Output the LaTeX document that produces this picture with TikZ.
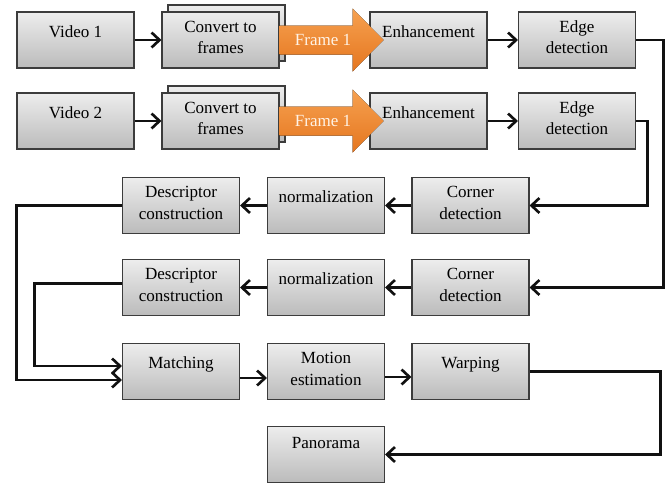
\documentclass[tikz,border=0pt]{standalone}
\usepackage{fontspec}
\setmainfont{Liberation Serif}
\usetikzlibrary{arrows.meta,calc}

\begin{document}
\begin{tikzpicture}[line join=miter]
  \definecolor{boxtop}{HTML}{EDEDED}
  \definecolor{boxbot}{HTML}{BBBBBB}
  \definecolor{rim}{HTML}{3C3C3C}
  \definecolor{wire}{HTML}{111111}
  \definecolor{flametop}{HTML}{F6A150}
  \definecolor{flamebot}{HTML}{E5761F}
  \definecolor{flametext}{HTML}{FFF3E6}
  \path[use as bounding box] (0,0) rectangle (13.3,-9.66);
  \fill[white] (0,0) rectangle (13.3,-9.66);
  \tikzset{
    stage/.style={draw=rim, line width=0.6pt, top color=boxtop, bottom color=boxbot,
      minimum width=2.34cm, minimum height=1.12cm, inner xsep=2pt, inner ysep=0pt,
      align=center, text height=0.83cm, text depth=0.29cm,
      font=\fontsize{9.7}{12}\selectfont},
    oneline/.style={text height=0.50cm, text depth=0.62cm},
    flow/.style={draw=wire, line width=1.5pt, -{Straight Barb[length=0.16cm,width=0.3cm]}},
    frame/.style={top color=flametop, bottom color=flamebot},
    framelabel/.style={text=flametext, font=\fontsize{9.7}{12}\selectfont, inner sep=0pt}
  }
  % Two input streams, each split into frames and filtered.
  \node[stage,oneline] (vid1) at (1.51,-0.80) {Video 1};
  \node[stage] (conv1b) at (4.53,-0.66) {};
  \node[stage] (conv1) at (4.41,-0.80) {Convert to\\frames};
  \node[stage,oneline] (enh1) at (8.57,-0.80) {Enhancement};
  \node[stage] (edge1) at (11.54,-0.80) {Edge\\detection};
  \node[stage,oneline] (vid2) at (1.51,-2.42) {Video 2};
  \node[stage] (conv2b) at (4.53,-2.28) {};
  \node[stage] (conv2) at (4.41,-2.42) {Convert to\\frames};
  \node[stage,oneline] (enh2) at (8.57,-2.42) {Enhancement};
  \node[stage] (edge2) at (11.54,-2.42) {Edge\\detection};
  % Features run back to the left.
  \node[stage] (desca) at (3.62,-4.11) {Descriptor\\construction};
  \node[stage,oneline] (norma) at (6.52,-4.11) {normalization};
  \node[stage] (corna) at (9.41,-4.11) {Corner\\detection};
  \node[stage] (descb) at (3.62,-5.75) {Descriptor\\construction};
  \node[stage,oneline] (normb) at (6.52,-5.75) {normalization};
  \node[stage] (cornb) at (9.41,-5.75) {Corner\\detection};
  % Registration and output.
  \node[stage,oneline] (match) at (3.62,-7.43) {Matching};
  \node[stage] (motion) at (6.52,-7.43) {Motion\\estimation};
  \node[stage,oneline] (warp) at (9.41,-7.43) {Warping};
  \node[stage,oneline,text height=0.44cm, text depth=0.68cm] (pano) at (6.52,-9.09) {Panorama};
  % Orange frame arrows lie over the enhancement boxes.
  \fill[frame] (conv1.east) ++(0,0.29) -- ++(1.46,0) -- ++(0,0.34) -- ++(0.62,-0.63)
    -- ++(-0.62,-0.63) -- ++(0,0.34) -- ++(-1.46,0) -- cycle;
  \fill[frame] (conv2.east) ++(0,0.29) -- ++(1.46,0) -- ++(0,0.34) -- ++(0.62,-0.63)
    -- ++(-0.62,-0.63) -- ++(0,0.34) -- ++(-1.46,0) -- cycle;
  \node[framelabel,anchor=base] (fr1) at ($(conv1.east)+(0.87,-0.10)$) {Frame 1};
  \node[framelabel,anchor=base] (fr2) at ($(conv2.east)+(0.87,-0.10)$) {Frame 1};
  % Connectors.
  \draw[flow] (vid1) -- (conv1);
  \draw[flow] (vid2) -- (conv2);
  \draw[flow] (enh1) -- (edge1);
  \draw[flow] (enh2) -- (edge2);
  \draw[flow] (edge1.east) -- ++(0.55,0) |- (cornb.east);
  \draw[flow] (edge2.east) -- ++(0.23,0) |- (corna.east);
  \draw[flow] (corna) -- (norma);
  \draw[flow] (norma) -- (desca);
  \draw[flow] (cornb) -- (normb);
  \draw[flow] (normb) -- (descb);
  \draw[flow] (desca.west) -- ++(-2.11,0) |- ([yshift=-0.17cm]match.west);
  \draw[flow] ([yshift=0.08cm]descb.west) -- ++(-1.75,0) |- ([yshift=0.11cm]match.west);
  \draw[flow] ([yshift=-0.13cm]match.east) -- ([yshift=-0.13cm]motion.west);
  \draw[flow] ([yshift=-0.11cm]motion.east) -- ([yshift=-0.11cm]warp.west);
  \draw[flow] (warp.east) -- ++(2.62,0) |- (pano.east);
\end{tikzpicture}
\end{document}
